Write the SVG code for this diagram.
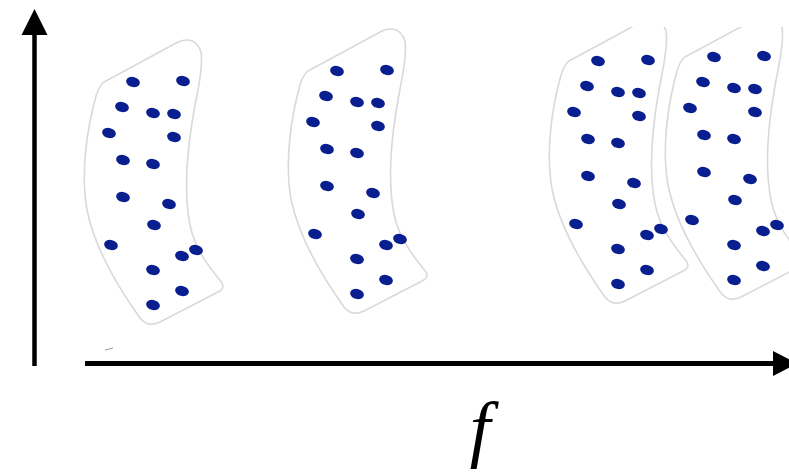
<svg xmlns="http://www.w3.org/2000/svg" width="789" height="472" viewBox="0 0 789 472">
  <style>
    .outline { fill: #ffffff; stroke: #d9d9d9; stroke-width: 1.6; }
    .dot { fill: #0a1f8f; }
    .axis { stroke: #000000; fill: none; }
    .head { fill: #000000; }
    .label { font-family: "Liberation Serif", "DejaVu Serif", serif; font-style: italic; font-size: 74px; fill: #000000; }
  </style>
  <defs>
    <clipPath id="topclip">
      <rect x="0" y="27" width="789" height="445"/>
    </clipPath>
    <g id="cluster">
      <path class="outline" d="M 104,82 L 178,42 Q 195,35 201,52 Q 203,65 197,95 C 188,140 183,190 190,225 C 195,250 210,268 222,283 Q 225,289 218,292 L 160,322 Q 148,328 140,318 C 120,290 95,250 87,210 C 80,170 88,125 96,96 Q 99,86 104,82 Z"/>
      <g class="dot">
        <ellipse cx="133" cy="82" rx="7" ry="5" transform="rotate(15 133 82)"/>
        <ellipse cx="183" cy="81" rx="7" ry="5" transform="rotate(15 183 81)"/>
        <ellipse cx="122" cy="107" rx="7" ry="5" transform="rotate(15 122 107)"/>
        <ellipse cx="153" cy="113" rx="7" ry="5" transform="rotate(15 153 113)"/>
        <ellipse cx="174" cy="114" rx="7" ry="5" transform="rotate(15 174 114)"/>
        <ellipse cx="109" cy="133" rx="7" ry="5" transform="rotate(15 109 133)"/>
        <ellipse cx="174" cy="137" rx="7" ry="5" transform="rotate(15 174 137)"/>
        <ellipse cx="123" cy="160" rx="7" ry="5" transform="rotate(15 123 160)"/>
        <ellipse cx="153" cy="164" rx="7" ry="5" transform="rotate(15 153 164)"/>
        <ellipse cx="123" cy="197" rx="7" ry="5" transform="rotate(15 123 197)"/>
        <ellipse cx="169" cy="204" rx="7" ry="5" transform="rotate(15 169 204)"/>
        <ellipse cx="154" cy="225" rx="7" ry="5" transform="rotate(15 154 225)"/>
        <ellipse cx="111" cy="245" rx="7" ry="5" transform="rotate(15 111 245)"/>
        <ellipse cx="182" cy="256" rx="7" ry="5" transform="rotate(15 182 256)"/>
        <ellipse cx="196" cy="250" rx="7" ry="5" transform="rotate(15 196 250)"/>
        <ellipse cx="153" cy="270" rx="7" ry="5" transform="rotate(15 153 270)"/>
        <ellipse cx="182" cy="291" rx="7" ry="5" transform="rotate(15 182 291)"/>
        <ellipse cx="153" cy="305" rx="7" ry="5" transform="rotate(15 153 305)"/>
      </g>
    </g>
  </defs>

  <g id="cluster1">
    <use href="#cluster"/>
  </g>
  <g id="cluster2">
    <use href="#cluster" transform="translate(204,-11)"/>
  </g>
  <g id="cluster3" clip-path="url(#topclip)">
    <use href="#cluster" transform="translate(465,-21)"/>
  </g>
  <g id="cluster4" clip-path="url(#topclip)">
    <use href="#cluster" transform="translate(581,-25)"/>
  </g>

  <line x1="105" y1="350" x2="113" y2="348" stroke="#999999" stroke-width="1"/>

  <g id="axes">
    <line class="axis" x1="34.5" y1="366" x2="34.5" y2="33" stroke-width="4.5"/>
    <polygon class="head" points="34.5,9 21.5,35 47.5,35"/>
    <line class="axis" x1="85" y1="363.5" x2="775" y2="363.5" stroke-width="5"/>
    <polygon class="head" points="773,351 773,376 797,363.5"/>
  </g>

  <text class="label" x="480" y="453" text-anchor="middle">f</text>
</svg>
